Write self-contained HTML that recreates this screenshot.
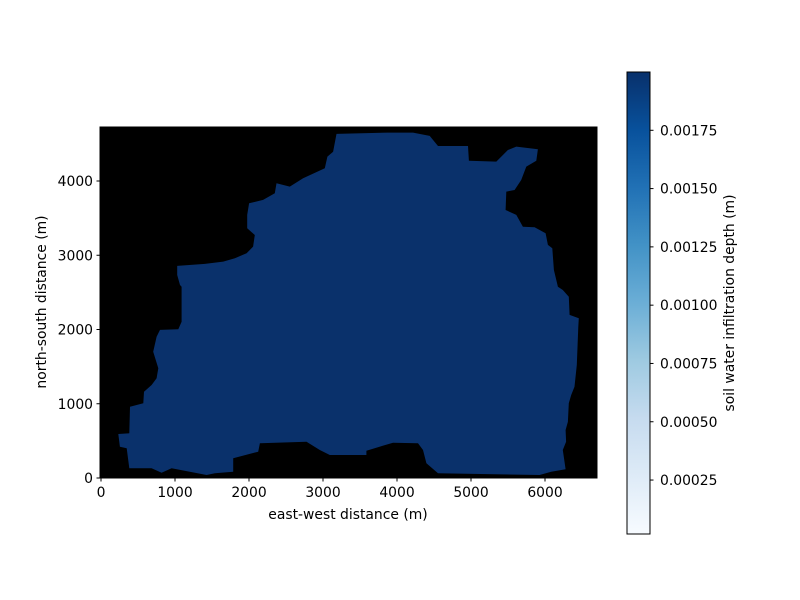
<!DOCTYPE html>
<html><head><meta charset="utf-8"><style>
html,body{margin:0;padding:0;background:#fff;}
svg{display:block;font-family:"DejaVu Sans","Liberation Sans",sans-serif;}
</style></head><body>
<svg id="chart" width="800" height="600" viewBox="0 0 800 600">
<defs>
<linearGradient id="blues" x1="0" y1="1" x2="0" y2="0">
<stop offset="0" stop-color="#f7fbff"/><stop offset="0.125" stop-color="#deebf7"/>
<stop offset="0.25" stop-color="#c6dbef"/><stop offset="0.375" stop-color="#9ecae1"/>
<stop offset="0.5" stop-color="#6baed6"/><stop offset="0.625" stop-color="#4292c6"/>
<stop offset="0.75" stop-color="#2171b5"/><stop offset="0.875" stop-color="#08519c"/>
<stop offset="1" stop-color="#08306b"/></linearGradient>
</defs>
<g id="plot"></g>
</svg>
<script>
const xTicks=[0,1000,2000,3000,4000,5000,6000];
const yTicks=[0,1000,2000,3000,4000];
const cbTicks=[0.00025,0.0005,0.00075,0.001,0.00125,0.0015,0.00175];
const cbLabels=["0.00025","0.00050","0.00075","0.00100","0.00125","0.00150","0.00175"];
const infiltrationValue=0.0019;
const boundaryX=[3182,3870,4216,4442,4554,4959,4972,5342,5499,5612,5904,5882,5747,5679,5589,5477,5468,5612,5701,5859,6008,6039,6098,6120,6174,6241,6322,6332,6457,6450,6430,6399,6354,6322,6309,6278,6285,6241,6278,6084,5927,4554,4397,4351,4284,3946,3587,3587,3092,2957,2777,2147,2124,1786,1786,1539,1427,954,819,684,382,347,256,234,382,392,571,581,684,752,774,706,752,797,1044,1089,1089,1067,1030,1030,1404,1651,1809,1967,2056,2079,1975,1975,2002,2191,2349,2372,2552,2731,3024,3060,3136];
const boundaryY=[4634,4652,4652,4607,4472,4472,4274,4261,4418,4463,4427,4274,4194,4014,3879,3857,3610,3543,3385,3377,3296,3139,3094,2802,2577,2532,2442,2196,2151,2038,1522,1230,1118,1006,758,647,489,377,117,85,40,63,198,377,467,476,368,310,310,377,489,467,354,265,85,63,40,131,71,131,131,400,422,593,602,960,1006,1162,1253,1343,1478,1701,1903,1994,2003,2105,2577,2600,2734,2856,2883,2914,2959,3027,3116,3273,3363,3543,3700,3745,3835,3970,3924,4037,4172,4328,4395];
const X0=101,XS=0.074,Y0=478,YS=0.07425,FS=13.9;
const ax={l:100,r:597,t:127,b:478};
const sx=v=>X0+v*XS, sy=v=>Y0-v*YS;
const cb={l:627,r:650,t:72,b:534,vmin:0.0000186,vmax:0.0020};
const cy=v=>cb.b-(v-cb.vmin)/(cb.vmax-cb.vmin)*(cb.b-cb.t);
const NS="http://www.w3.org/2000/svg";
const g=document.getElementById('plot');
function mk(t,a,txt){const e=document.createElementNS(NS,t);for(const k in a)e.setAttribute(k,a[k]);if(txt!==undefined)e.textContent=txt;g.appendChild(e);return e;}
let e=mk('rect',{x:ax.l,y:ax.t,width:ax.r-ax.l,height:ax.b-ax.t,fill:'#000'});


const pts=boundaryX.map((x,i)=>sx(x).toFixed(1)+','+sy(boundaryY[i]).toFixed(1)).join(' ');
e=mk('polygon',{points:pts,fill:'#0a316b'});


e=mk('rect',{x:ax.l,y:ax.t,width:ax.r-ax.l,height:ax.b-ax.t,fill:'none',stroke:'#000','stroke-width':1});


xTicks.forEach(v=>{const x=sx(v);
 e=mk('line',{x1:x,x2:x,y1:ax.b,y2:ax.b+3.5,stroke:'#000'});
 
 
 e=mk('text',{x:x,y:ax.b+19,'font-size':FS,'text-anchor':'middle'},String(v));
 
 });
yTicks.forEach(v=>{const y=sy(v);
 e=mk('line',{x1:ax.l-3.5,x2:ax.l,y1:y,y2:y,stroke:'#000'});
 
 
 e=mk('text',{x:ax.l-7,y:y+5,'font-size':FS,'text-anchor':'end'},String(v));
 
 });
e=mk('text',{x:348,y:519,'font-size':FS,'text-anchor':'middle'},'east-west distance (m)');


e=mk('text',{x:46,y:302,'font-size':FS,'text-anchor':'middle',transform:'rotate(-90 46 302)'},'north-south distance (m)');


e=mk('rect',{x:cb.l,y:cb.t,width:cb.r-cb.l,height:cb.b-cb.t,fill:'url(#blues)',stroke:'#000','stroke-width':1});


cbTicks.forEach((v,i)=>{const y=cy(v);
 e=mk('line',{x1:cb.r,x2:cb.r+3.5,y1:y,y2:y,stroke:'#000'});
 
 
 e=mk('text',{x:cb.r+10,y:y+5,'font-size':FS},cbLabels[i]);
 
 });
e=mk('text',{x:734,y:303,'font-size':FS,'text-anchor':'middle',transform:'rotate(-90 734 303)'},'soil water infiltration depth (m)');


</script>
</body></html>
